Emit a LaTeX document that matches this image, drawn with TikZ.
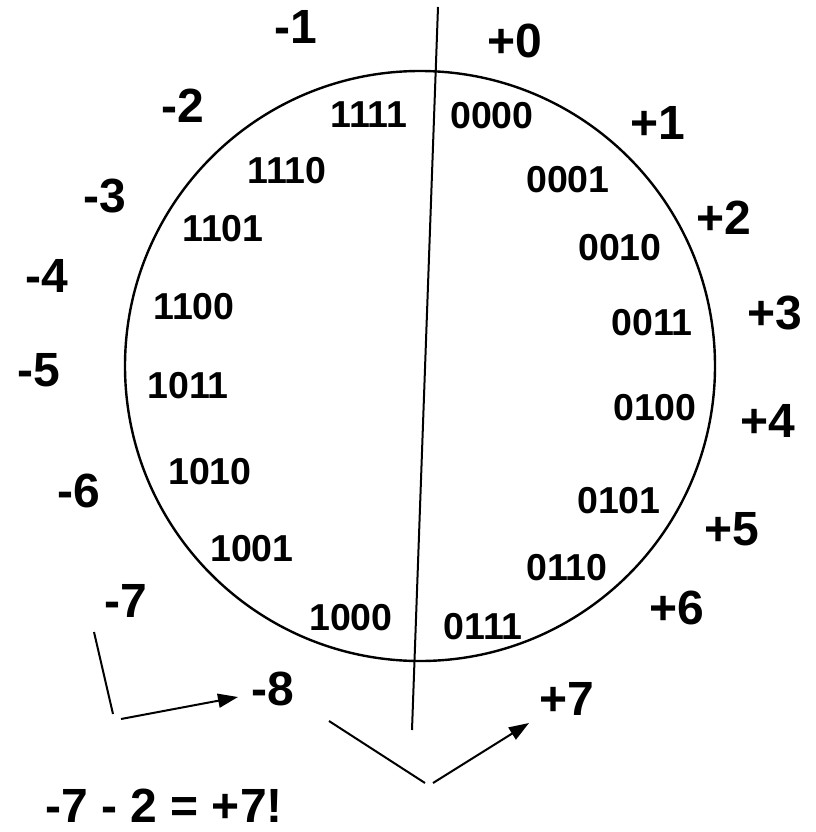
\documentclass[tikz,border=0pt]{standalone}
\usepackage{fontspec}
\setmainfont{Liberation Sans}
\usetikzlibrary{arrows.meta}
\begin{document}
\begin{tikzpicture}[x=1pt,y=-1pt,
  outer/.style={font=\bfseries\fontsize{48}{54}\selectfont, inner sep=0pt, anchor=center},
  inner/.style={font=\bfseries\fontsize{37.5}{42}\selectfont, inner sep=0pt, anchor=center},
  conn/.style={line width=2pt},
  arr/.style={line width=2pt, -{Triangle[length=20pt,width=14pt]}}]
\useasboundingbox (0,0) rectangle (815,832);
% circle
\draw[line width=2.4pt] (420,366) circle[radius=295];
% vertical divider
\coordinate (vtop) at (438,7);
\coordinate (vbot) at (412,730);
\draw[conn] (vtop) -- (vbot);
% outer labels
\node[outer] (m1) at (296,27) {-1};
\node[outer] (p0) at (515,41) {+0};
\node[outer] (m2) at (183,106) {-2};
\node[outer] (p1) at (658,123) {+1};
\node[outer] (m3) at (105,196) {-3};
\node[outer] (p2) at (724,218) {+2};
\node[outer] (m4) at (47,276) {-4};
\node[outer] (p3) at (775,313) {+3};
\node[outer] (m5) at (39,370) {-5};
\node[outer] (p4) at (768,421) {+4};
\node[outer] (m6) at (79,491) {-6};
\node[outer] (p5) at (732,529) {+5};
\node[outer] (m7) at (126,601) {-7};
\node[outer] (p6) at (677,608) {+6};
\node[outer] (m8) at (273,689) {-8};
\node[outer] (p7) at (567,699) {+7};
\node[outer] (eq) at (164,806) {-7 - 2 = +7!};
% inner labels
\node[inner] (b1111) at (369,115) {1111};
\node[inner] (b0000) at (492,116) {0000};
\node[inner] (b1110) at (287,171) {1110};
\node[inner] (b0001) at (568,180) {0001};
\node[inner] (b1101) at (223,229) {1101};
\node[inner] (b0010) at (620,248) {0010};
\node[inner] (b1100) at (194,307) {1100};
\node[inner] (b0011) at (652,323) {0011};
\node[inner] (b1011) at (188,386) {1011};
\node[inner] (b0100) at (655,408) {0100};
\node[inner] (b1010) at (210,472) {1010};
\node[inner] (b0101) at (619,501) {0101};
\node[inner] (b1001) at (252,549) {1001};
\node[inner] (b0110) at (567,568) {0110};
\node[inner] (b1000) at (351,618) {1000};
\node[inner] (b0111) at (483,627) {0111};
% left bent arrow
\coordinate (la) at (94,632);
\coordinate (lb) at (113,714);
\coordinate (lc) at (121,719);
\coordinate (ld) at (238,697);
\draw[conn] (la) -- (lb);
\draw[arr] (lc) -- (ld);
% right bent arrow
\coordinate (ra) at (329,721);
\coordinate (rb) at (425,783);
\coordinate (rc) at (433,783);
\coordinate (rd) at (529,723);
\draw[conn] (ra) -- (rb);
\draw[arr] (rc) -- (rd);
\end{tikzpicture}
\end{document}
